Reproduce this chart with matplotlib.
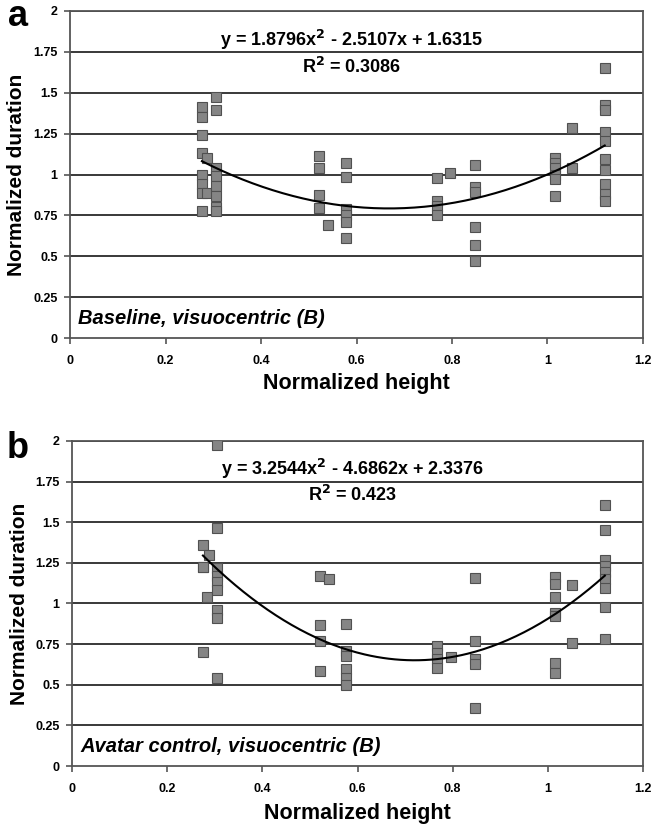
import matplotlib.pyplot as plt
import numpy as np

plt.rcParams["font.family"] = ["Liberation Sans", "DejaVu Sans"]
plt.rcParams["font.weight"] = "bold"

# panel a: baseline, visuocentric
a_x = [0.276] * 8 + [0.286, 0.286] + [0.305] * 8 \
    + [0.522] * 4 + [0.541] + [0.577] * 6 \
    + [0.769] * 4 + [0.795] + [0.848] * 6 \
    + [1.016] * 6 + [1.051, 1.051] + [1.12] * 10
a_y = [1.415, 1.354, 1.242, 1.130, 0.998, 0.943, 0.886, 0.778, 1.10, 0.886,
       1.476, 1.394, 1.04, 0.99, 0.93, 0.87, 0.80, 0.78,
       1.114, 1.039, 0.876, 0.795, 0.693,
       1.069, 0.982, 0.79, 0.75, 0.71, 0.612,
       0.978, 0.841, 0.805, 0.754, 1.008,
       1.057, 0.925, 0.894, 0.681, 0.569, 0.474,
       1.10, 1.07, 1.04, 1.00, 0.97, 0.87, 1.287, 1.037,
       1.652, 1.423, 1.392, 1.260, 1.205, 1.098, 1.030, 0.945, 0.884, 0.839]
a_coef = [1.8796, -2.5107, 1.6315]
a_eq = "y = 1.8796x$^{\\mathbf{2}}$ - 2.5107x + 1.6315"
a_r2 = "R$^{\\mathbf{2}}$ = 0.3086"
a_note = "Baseline, visuocentric (B)"

# panel b: avatar control, visuocentric
b_x = [0.275] * 4 + [0.283, 0.288] + [0.304] * 9 \
    + [0.521] * 4 + [0.541] + [0.576] * 6 \
    + [0.768] * 4 + [0.796] + [0.848] * 5 \
    + [1.016] * 7 + [1.051, 1.051] + [1.12] * 9
b_y = [1.359, 1.227, 1.227, 0.703, 1.043, 1.30,
       1.973, 1.467, 1.22, 1.17, 1.13, 1.082, 0.961, 0.910, 0.541,
       1.168, 0.867, 0.768, 0.584, 1.148,
       0.875, 0.707, 0.676, 0.594, 0.543, 0.498,
       0.738, 0.693, 0.656, 0.604, 0.668,
       1.156, 0.768, 0.656, 0.629, 0.359,
       1.164, 1.123, 1.039, 0.943, 0.922, 0.631, 0.574, 1.111, 0.758,
       1.605, 1.451, 1.270, 1.230, 1.195, 1.150, 1.096, 0.977, 0.783]
b_coef = [3.2544, -4.6862, 2.3376]
b_eq = "y = 3.2544x$^{\\mathbf{2}}$ - 4.6862x + 2.3376"
b_r2 = "R$^{\\mathbf{2}}$ = 0.423"
b_note = "Avatar control, visuocentric (B)"

x_ticks = [0, 0.2, 0.4, 0.6, 0.8, 1, 1.2]
x_labels = ["0", "0.2", "0.4", "0.6", "0.8", "1", "1.2"]
y_ticks = [0, 0.25, 0.5, 0.75, 1, 1.25, 1.5, 1.75, 2]
y_labels = ["0", "0.25", "0.5", "0.75", "1", "1.25", "1.5", "1.75", "2"]


def draw_panel(ax, xs, ys, coef, eq, r2, note, eq_y, r2_y, xlabel_y):
    for t in y_ticks[1:]:
        ax.axhline(t, color="#2a2a2a", lw=1.3, zorder=1)
    ax.plot(xs, ys, "s", ms=7.5, mfc="#858585", mec="#505050", mew=0.8, zorder=3)

    fit_x = np.linspace(min(xs), max(xs), 200)
    ax.plot(fit_x, np.polyval(coef, fit_x), color="black", lw=1.5, zorder=4)

    ax.set_xlim(0, 1.2)
    ax.set_ylim(0, 2)
    ax.set_xticks(x_ticks)
    ax.set_xticklabels(x_labels)
    ax.set_yticks(y_ticks)
    ax.set_yticklabels(y_labels)
    ax.tick_params(axis="both", direction="out", length=4, width=1.2,
                   color="#555555", labelsize=9, pad=5)
    ax.tick_params(axis="x", pad=8)
    for side in ["left", "bottom", "right", "top"]:
        ax.spines[side].set_color("#555555")
        ax.spines[side].set_linewidth(1.3)

    ax.set_xlabel("Normalized height", fontsize=15.5, fontweight="bold")
    ax.xaxis.label.set_va("center")
    ax.xaxis.set_label_coords(0.5, xlabel_y)
    ax.set_ylabel("Normalized duration", fontsize=15, fontweight="bold")
    ax.yaxis.label.set_va("center")
    ax.yaxis.set_label_coords(-0.093, 0.5)

    ax.text(0.59, eq_y, eq, fontsize=13, fontweight="bold",
            ha="center", va="center")
    ax.text(0.59, r2_y, r2, fontsize=13, fontweight="bold",
            ha="center", va="center")
    ax.text(0.017, 0.12, note, fontsize=14.5, fontweight="bold",
            style="italic", ha="left", va="center")


fig = plt.figure(figsize=(6.56, 8.30), dpi=100)
ax_a = fig.add_axes([0.107, 0.5924, 0.873, 0.3946])
ax_b = fig.add_axes([0.110, 0.0771, 0.870, 0.3916])

draw_panel(ax_a, a_x, a_y, a_coef, a_eq, a_r2, a_note, 1.82, 1.655, -0.137)
draw_panel(ax_b, b_x, b_y, b_coef, b_eq, b_r2, b_note, 1.83, 1.665, -0.145)

fig.text(18 / 656, 1 - 16 / 830, "a", fontsize=26, fontweight="bold",
         ha="center", va="center")
fig.text(18 / 656, 1 - 448 / 830, "b", fontsize=26, fontweight="bold",
         ha="center", va="center")

fig.savefig("out.png", dpi=100)
